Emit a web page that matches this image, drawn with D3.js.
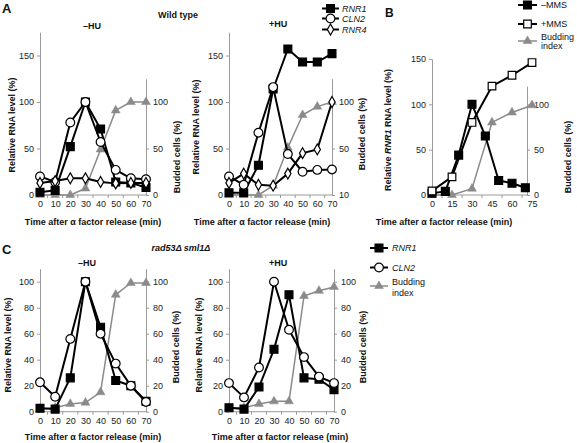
<!DOCTYPE html>
<html><head><meta charset="utf-8">
<script src="https://cdn.jsdelivr.net/npm/d3@7"></script>
<style>
body{margin:0;background:#fff;}
svg text{font-family:"Liberation Sans",Arial,Helvetica,sans-serif;fill:#111;}
</style></head><body>
<svg id="c" width="577" height="443"></svg>
<script>
// ---------- DATA ----------
const timesA = [0,10,20,30,40,50,60,70];
const aMinusRNR1 = [3,5,52,100,71,14,13,8];
const aMinusCLN2 = [20,14,78,100,57,27,18,17];
const aMinusRNR4 = [13,15,18,18,14,12.5,13,13];
const aMinusBud  = [0,0,0,7,49,91,100,100];
const aPlusRNR1  = [2.5,2.5,32,114,157,143,143,152];
const aPlusCLN2  = [20,11,67,116,44,25,27,27.5];
const aPlusRNR4  = [13,23,11,10,23,45,49,100];
const aPlusBud   = [0,0,0,10,51,86,95,100];
const aLeftTicks = [0,50,100,150];
const aRightTicks = [0,50,100];
const aMinusRightLabels = ["0","50","100"];
const aPlusRightLabels = ["10","50","100"];

const timesBMinus = [0,10,20,30,40,50,60,70];
const bMinusMMS = [2,4,44,100,65,16,13,8];
const timesBPlus = [0,15,30,45,60,75];
const bPlusMMS = [4.5,20,80,120,132,146];
const bBud = [0,0,7,80,91,99];
const bXTicks = [0,15,30,45,60,75];
const bLeftTicks = [0,50,100,150];
const bRightTicks = [0,50,100];

const timesC = [0,10,20,30,40,50,60,70];
const cMinusRNR1 = [2.6,2,26,100,65,24,20,8];
const cMinusCLN2 = [22.6,11.5,56,100,60,37,20,7.5];
const cMinusBud  = [2,3,6,7,15,90,99,99];
const cPlusRNR1  = [3,2,19,48,90,26,25,17];
const cPlusCLN2  = [22,11,34,100,63,42,27,22];
const cPlusBud   = [3,3,6,8,8,89,93,96];
const cTicks = [0,20,40,60,80,100];

const xTicks70 = [0,10,20,30,40,50,60,70];

// ---------- STYLE ----------
const AX = "#9a9a9a", GRAY = "#8a8a8a";
const svg = d3.select("#c");

function marker(g, type, cx, cy) {
  let sym, size, fill = "#fff", stroke = "#000", sw = 1.2;
  if (type === "sq") { sym = d3.symbolSquare; size = 62; fill = "#000"; }
  else if (type === "osq") { sym = d3.symbolSquare; size = 58; }
  else if (type === "circ") { sym = d3.symbolCircle; size = 60; }
  else if (type === "dia") { sym = d3.symbolDiamond; size = 34; }
  else { sym = d3.symbolTriangle; size = 34; fill = GRAY; stroke = GRAY; sw = 0.5; }
  g.append("path").attr("d", d3.symbol(sym, size)())
    .attr("transform", `translate(${cx},${cy})`)
    .attr("fill", fill).attr("stroke", stroke).attr("stroke-width", sw);
}

function drawPanel(p) {
  const g = svg.append("g");
  const x = d3.scaleLinear().domain(p.xDomain).range(p.xRange);
  const yPer = (p.base - p.y100) / 100;
  const yL = d3.scaleLinear().domain([0, p.leftMax]).range([p.base, p.base - yPer * p.leftMax]);
  const yR = d3.scaleLinear().domain([0, p.rightMax]).range([p.base, p.base - yPer * p.rightMax]);
  const xL = p.xRange[0], xR = p.rightX;

  // x baseline
  g.append("line").attr("x1", xL).attr("x2", xR).attr("y1", p.base).attr("y2", p.base)
    .attr("stroke", AX).attr("stroke-width", 1);
  // mid ticks
  const mids = p.xTicks.slice(0, -1).map((d, i) => (d + p.xTicks[i + 1]) / 2);
  g.selectAll(".mt").data(mids).join("line")
    .attr("x1", d => x(d)).attr("x2", d => x(d)).attr("y1", p.base).attr("y2", p.base + 3)
    .attr("stroke", AX);
  // x labels
  const xa = g.append("g").attr("transform", `translate(0,${p.base})`)
    .call(d3.axisBottom(x).tickValues(p.xTicks).tickSize(0).tickPadding(6));
  xa.select(".domain").remove();
  xa.selectAll("text").attr("font-size", 9).style("fill", "#222")
    .attr("font-family", "Liberation Sans, Arial, sans-serif");

  // left axis
  const la = g.append("g").attr("transform", `translate(${xL},0)`)
    .call(d3.axisLeft(yL).tickValues(p.leftTicks).tickSize(3).tickPadding(3).tickSizeOuter(0));
  la.select(".domain").attr("stroke", AX);
  la.selectAll(".tick line").attr("stroke", AX);
  la.selectAll("text").attr("font-size", 9).style("fill", "#222")
    .attr("font-family", "Liberation Sans, Arial, sans-serif");
  // right axis
  const ra = g.append("g").attr("transform", `translate(${xR},0)`)
    .call(d3.axisRight(yR).tickValues(p.rightTicks).tickSize(3).tickPadding(4).tickSizeOuter(0)
      .tickFormat((d, i) => p.rightLabels ? p.rightLabels[i] : d));
  ra.select(".domain").attr("stroke", AX);
  ra.selectAll(".tick line").attr("stroke", AX);
  ra.selectAll("text").attr("font-size", 9).style("fill", "#222")
    .attr("font-family", "Liberation Sans, Arial, sans-serif");

  // series
  p.series.forEach(s => {
    const pts = s.t.map((t, i) => ({ t, v: s.v[i] }));
    const ys = s.right ? yR : yL;
    g.append("path").datum(pts)
      .attr("d", d3.line().x(d => x(d.t)).y(d => ys(d.v)))
      .attr("fill", "none").attr("stroke", s.m === "tri" ? GRAY : "#000")
      .attr("stroke-width", s.m === "tri" ? 1.5 : 2).attr("stroke-linejoin", "round");
    pts.forEach(d => marker(g, s.m, x(d.t), ys(d.v)));
  });

  // titles
  const bt = (txt, cx, cy, rot, size) => {
    const t = g.append("text").attr("text-anchor", "middle").attr("font-weight", "bold")
      .attr("font-size", size || 9).attr("dominant-baseline", "central")
      .attr("transform", `translate(${cx},${cy})${rot ? " rotate(-90)" : ""}`);
    return t;
  };
  bt(null, p.xTitle[0], p.xTitle[1]).text("Time after \u03b1 factor release (min)");
  const lt = bt(null, p.yLTitle[0], p.yLTitle[1], true);
  if (p.rnr1Title) {
    lt.append("tspan").text("Relative ");
    lt.append("tspan").attr("font-style", "italic").text("RNR1");
    lt.append("tspan").text(" RNA level (%)");
  } else lt.text("Relative RNA level (%)");
  bt(null, p.yRTitle[0], p.yRTitle[1], true).text("Budded cells (%)");
  if (p.title) bt(null, p.title[1], p.title[2]).text(p.title[0]);
}

function legend(items, lx0, lx1, tx) {
  const g = svg.append("g");
  items.forEach(it => {
    const col = it.m === "tri" ? GRAY : "#000";
    g.append("line").attr("x1", lx0).attr("x2", lx1).attr("y1", it.y).attr("y2", it.y)
      .attr("stroke", col).attr("stroke-width", it.m === "tri" ? 1.5 : 2);
    marker(g, it.m, (lx0 + lx1) / 2, it.y);
    it.lines.forEach((s, i) => {
      g.append("text").attr("x", tx).attr("y", it.ty[i]).attr("font-size", 9)
        .attr("dominant-baseline", "central")
        .attr("font-style", it.italic ? "italic" : "normal").text(s);
    });
  });
}

// ---------- PANEL A ----------
const aBase = 195, aY100 = 102;
drawPanel({
  xDomain: [0, 70], xRange: [40, 146], rightX: 146, xTicks: xTicks70,
  base: aBase, y100: aY100, leftMax: 175, rightMax: 125,
  leftTicks: aLeftTicks, rightTicks: aRightTicks, rightLabels: aMinusRightLabels,
  series: [
    { t: timesA, v: aMinusBud, m: "tri", right: true },
    { t: timesA, v: aMinusRNR1, m: "sq" },
    { t: timesA, v: aMinusCLN2, m: "circ" },
    { t: timesA, v: aMinusRNR4, m: "dia" }
  ],
  xTitle: [93, 222], yLTitle: [12, 125], yRTitle: [177, 157], title: ["\u2013HU", 92, 26]
});
drawPanel({
  xDomain: [0, 70], xRange: [229, 332], rightX: 332, xTicks: xTicks70,
  base: aBase, y100: aY100, leftMax: 175, rightMax: 125,
  leftTicks: aLeftTicks, rightTicks: aRightTicks, rightLabels: aPlusRightLabels,
  series: [
    { t: timesA, v: aPlusBud, m: "tri", right: true },
    { t: timesA, v: aPlusRNR1, m: "sq" },
    { t: timesA, v: aPlusCLN2, m: "circ" },
    { t: timesA, v: aPlusRNR4, m: "dia" }
  ],
  xTitle: [262, 222], yLTitle: [196, 127], yRTitle: [362, 134], title: ["+HU", 278, 24]
});
legend([
  { m: "sq", y: 8.5, lines: ["RNR1"], ty: [8.5], italic: true },
  { m: "circ", y: 18.5, lines: ["CLN2"], ty: [18.5], italic: true },
  { m: "dia", y: 29.5, lines: ["RNR4"], ty: [29.5], italic: true }
], 322, 339, 342);

// ---------- PANEL B ----------
drawPanel({
  xDomain: [0, 75], xRange: [432, 532], rightX: 527, xTicks: bXTicks,
  base: 195, y100: 104.3, leftMax: 150, rightMax: 120,
  leftTicks: bLeftTicks, rightTicks: bRightTicks,
  series: [
    { t: timesBPlus, v: bBud, m: "tri", right: true },
    { t: timesBMinus, v: bMinusMMS, m: "sq" },
    { t: timesBPlus, v: bPlusMMS, m: "osq" }
  ],
  xTitle: [444, 222], yLTitle: [388, 130], yRTitle: [568, 157], rnr1Title: true
});
legend([
  { m: "sq", y: 5, lines: ["\u2013MMS"], ty: [5] },
  { m: "osq", y: 24, lines: ["+MMS"], ty: [24] },
  { m: "tri", y: 41, lines: ["Budding", "index"], ty: [36.5, 46] }
], 518, 537, 541);

// ---------- PANEL C ----------
const cBase = 411.7, cY100 = 281.7;
drawPanel({
  xDomain: [0, 70], xRange: [40, 146], rightX: 146, xTicks: xTicks70,
  base: cBase, y100: cY100, leftMax: 110, rightMax: 110,
  leftTicks: cTicks, rightTicks: cTicks,
  series: [
    { t: timesC, v: cMinusBud, m: "tri", right: true },
    { t: timesC, v: cMinusRNR1, m: "sq" },
    { t: timesC, v: cMinusCLN2, m: "circ" }
  ],
  xTitle: [93, 437], yLTitle: [8, 345], yRTitle: [176, 347], title: ["\u2013HU", 87, 263]
});
drawPanel({
  xDomain: [0, 70], xRange: [229, 334], rightX: 334, xTicks: xTicks70,
  base: cBase, y100: cY100, leftMax: 110, rightMax: 110,
  leftTicks: cTicks, rightTicks: cTicks,
  series: [
    { t: timesC, v: cPlusBud, m: "tri", right: true },
    { t: timesC, v: cPlusRNR1, m: "sq" },
    { t: timesC, v: cPlusCLN2, m: "circ" }
  ],
  xTitle: [280, 437], yLTitle: [199, 345], yRTitle: [363, 347], title: ["+HU", 278, 263]
});
legend([
  { m: "sq", y: 248, lines: ["RNR1"], ty: [248], italic: true },
  { m: "circ", y: 267.5, lines: ["CLN2"], ty: [267.5], italic: true },
  { m: "tri", y: 286, lines: ["Budding", "index"], ty: [281.5, 292.5] }
], 370, 388, 392);

// ---------- LABELS ----------
const lab = (txt, x, y, size, opts) => {
  const t = svg.append("text").attr("x", x).attr("y", y).attr("font-size", size)
    .attr("font-weight", "bold").attr("dominant-baseline", "central");
  if (opts && opts.anchor) t.attr("text-anchor", opts.anchor);
  if (opts && opts.italic) t.attr("font-style", "italic");
  t.text(txt);
};
lab("A", 2, 8, 13);
lab("B", 385, 13, 12);
lab("C", 2, 249, 13);
lab("Wild type", 178, 15, 9, { anchor: "middle" });
lab("rad53\u0394 sml1\u0394", 181, 248, 9, { anchor: "middle", italic: true });
</script>
</body></html>
